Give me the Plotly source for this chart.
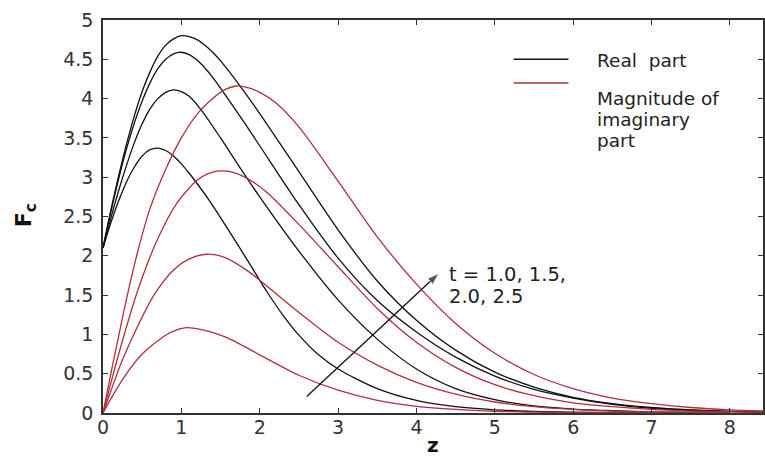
import plotly.graph_objects as go

# ---- data (z, F_c) ----
real_t10_z = [0, 0.1, 0.2, 0.3, 0.4, 0.5, 0.6, 0.7, 0.8, 0.9, 1.0, 1.1, 1.2, 1.36, 1.6, 1.87, 2.1, 2.3, 2.5, 2.75, 3.0, 3.5, 4.0, 4.5, 5.0, 5.5, 6.0, 7.0]
real_t10_f = [2.1, 2.42, 2.7, 2.94, 3.13, 3.27, 3.35, 3.37, 3.34, 3.27, 3.17, 3.05, 2.92, 2.7, 2.33, 1.9, 1.53, 1.24, 0.99, 0.74, 0.56, 0.31, 0.16, 0.08, 0.04, 0.02, 0.01, 0.0]

real_t15_z = [0, 0.1, 0.2, 0.3, 0.4, 0.5, 0.6, 0.7, 0.8, 0.9, 1.0, 1.1, 1.25, 1.5, 1.75, 2.0, 2.5, 3.0, 3.5, 4.0, 4.5, 5.0, 5.5, 6.0, 6.5, 7.0, 8.0]
real_t15_f = [2.1, 2.48, 2.83, 3.15, 3.44, 3.68, 3.87, 4.0, 4.08, 4.11, 4.09, 4.03, 3.86, 3.5, 3.12, 2.75, 2.06, 1.44, 0.94, 0.56, 0.31, 0.17, 0.09, 0.05, 0.03, 0.015, 0.005]

real_t20_z = [0, 0.1, 0.2, 0.3, 0.4, 0.5, 0.6, 0.7, 0.8, 0.9, 1.0, 1.1, 1.2, 1.3, 1.4, 1.6, 1.8, 2.0, 2.5, 3.0, 3.5, 4.0, 4.5, 5.0, 5.5, 6.0, 6.5, 7.0, 7.5, 8.0, 8.45]
real_t20_f = [2.1, 2.56, 2.98, 3.36, 3.69, 3.97, 4.2, 4.38, 4.5, 4.57, 4.59, 4.56, 4.49, 4.39, 4.27, 3.99, 3.7, 3.4, 2.65, 1.97, 1.43, 1.03, 0.71, 0.47, 0.3, 0.19, 0.11, 0.06, 0.035, 0.02, 0.01]

real_t25_z = [0, 0.1, 0.2, 0.3, 0.4, 0.5, 0.6, 0.7, 0.8, 0.9, 1.0, 1.1, 1.2, 1.3, 1.4, 1.5, 1.75, 2.0, 2.5, 3.0, 3.5, 4.0, 4.5, 5.0, 5.5, 6.0, 6.5, 7.0, 7.5, 8.0, 8.45]
real_t25_f = [2.1, 2.58, 3.02, 3.42, 3.78, 4.09, 4.34, 4.54, 4.68, 4.76, 4.8, 4.79, 4.75, 4.68, 4.59, 4.48, 4.16, 3.81, 3.07, 2.33, 1.68, 1.18, 0.8, 0.52, 0.33, 0.2, 0.12, 0.07, 0.04, 0.02, 0.01]

imag_t10_z = [0, 0.1, 0.3, 0.5, 0.8, 0.95, 1.06, 1.15, 1.3, 1.6, 2.0, 2.5, 3.0, 3.5, 4.0, 4.5, 5.0, 5.5, 6.0, 7.0]
imag_t10_f = [0, 0.18, 0.5, 0.75, 0.99, 1.06, 1.085, 1.08, 1.05, 0.95, 0.74, 0.48, 0.29, 0.16, 0.085, 0.045, 0.022, 0.011, 0.005, 0.0]

imag_t15_z = [0, 0.1, 0.25, 0.45, 0.65, 0.9, 1.1, 1.32, 1.55, 1.8, 2.0, 2.5, 3.0, 3.5, 4.0, 4.5, 5.0, 5.5, 6.0, 6.5, 7.0, 8.0]
imag_t15_f = [0, 0.28, 0.68, 1.12, 1.5, 1.82, 1.96, 2.02, 1.98, 1.84, 1.69, 1.28, 0.9, 0.61, 0.39, 0.24, 0.14, 0.08, 0.045, 0.025, 0.014, 0.005]

imag_t20_z = [0, 0.1, 0.2, 0.44, 0.7, 0.95, 1.2, 1.35, 1.52, 1.7, 1.9, 2.1, 2.5, 3.0, 3.5, 4.0, 4.5, 5.0, 5.5, 6.0, 6.5, 7.0, 7.5, 8.0, 8.45]
imag_t20_f = [0, 0.38, 0.75, 1.55, 2.22, 2.68, 2.96, 3.05, 3.08, 3.05, 2.95, 2.8, 2.4, 1.86, 1.33, 0.9, 0.58, 0.36, 0.22, 0.13, 0.08, 0.045, 0.025, 0.015, 0.01]

imag_t25_z = [0, 0.1, 0.2, 0.32, 0.45, 0.6, 0.8, 1.0, 1.2, 1.4, 1.55, 1.7, 1.85, 2.0, 2.2, 2.5, 3.0, 3.5, 4.0, 4.5, 5.0, 5.5, 6.0, 6.5, 7.0, 7.5, 8.0, 8.45]
imag_t25_f = [0, 0.5, 0.98, 1.54, 2.08, 2.6, 3.1, 3.5, 3.8, 4.0, 4.11, 4.16, 4.14, 4.08, 3.95, 3.64, 2.95, 2.24, 1.64, 1.14, 0.76, 0.49, 0.31, 0.19, 0.12, 0.07, 0.04, 0.025]

# arrow from low t to high t (start, tip)
arrow_z = [2.6, 4.29]
arrow_f = [0.21, 1.78]

y_ticks = [0, 0.5, 1, 1.5, 2, 2.5, 3, 3.5, 4, 4.5, 5]
x_ticks = [0, 1, 2, 3, 4, 5, 6, 7, 8]

BLACK = "#111111"
RED = "#b0303a"
FONT = "DejaVu Sans"

fig = go.Figure()
for zz, ff in [(real_t10_z, real_t10_f), (real_t15_z, real_t15_f),
               (real_t20_z, real_t20_f), (real_t25_z, real_t25_f)]:
    fig.add_trace(go.Scatter(x=zz, y=ff, mode="lines", showlegend=False,
                             line=dict(color=BLACK, width=1.3, shape="spline", smoothing=0.8)))
for zz, ff in [(imag_t10_z, imag_t10_f), (imag_t15_z, imag_t15_f),
               (imag_t20_z, imag_t20_f), (imag_t25_z, imag_t25_f)]:
    fig.add_trace(go.Scatter(x=zz, y=ff, mode="lines", showlegend=False,
                             line=dict(color=RED, width=1.3, shape="spline", smoothing=0.8)))

# arrow
fig.add_trace(go.Scatter(x=arrow_z, y=arrow_f, mode="lines+markers", showlegend=False,
                         line=dict(color=BLACK, width=1.3),
                         marker=dict(symbol="arrow", angleref="previous", size=[0, 13],
                                     color=BLACK)))

# legend drawn manually
fig.add_shape(type="line", xref="x", yref="y", x0=5.24, x1=5.94, y0=4.50, y1=4.50,
              line=dict(color=BLACK, width=1.5))
fig.add_shape(type="line", xref="x", yref="y", x0=5.24, x1=5.94, y0=4.20, y1=4.20,
              line=dict(color=RED, width=1.5))
legend_lines = [("Real  part", 60), ("Magnitude of", 98), ("imaginary", 119), ("part", 140)]
for txt, py in legend_lines:
    fig.add_annotation(x=6.28, y=(413 - py) / 78.6, xref="x", yref="y", text=txt, showarrow=False,
                       xanchor="left", yanchor="middle", font=dict(family=FONT, size=18.5, color="#222"))

# t annotation
for txt, py in [("t = 1.0, 1.5,", 274), ("2.0, 2.5", 296)]:
    fig.add_annotation(x=4.39, y=(413 - py) / 78.6, xref="x", yref="y", text=txt,
                       showarrow=False, xanchor="left", yanchor="middle",
                       font=dict(family=FONT, size=19.5, color="#222"))

# axis titles
fig.add_annotation(x=(25 - 103) / 662, y=(413 - 215) / 393, xref="paper", yref="paper",
                   text="<b>F<sub>c</sub></b>", textangle=-90, showarrow=False,
                   xanchor="center", yanchor="middle", font=dict(family=FONT, size=22, color="#111"))
fig.add_annotation(x=(433.5 - 103) / 662, y=(413 - 445) / 393, xref="paper", yref="paper",
                   text="<b>z</b>", showarrow=False, xanchor="center", yanchor="middle",
                   font=dict(family=FONT, size=20, color="#111"))

axis_common = dict(showgrid=False, zeroline=False, showline=True, linecolor="#333", linewidth=1.5,
                   mirror="ticks", ticks="inside", ticklen=5, tickwidth=1.2, tickcolor="#333",
                   tickfont=dict(family=FONT, size=19, color="#333"))
fig.update_xaxes(range=[0, 662 / 78.6], tickvals=x_ticks, ticktext=[str(v) for v in x_ticks],
                 ticklabelstandoff=-4, **axis_common)
fig.update_yaxes(range=[0, 5], tickvals=y_ticks, ticktext=[f"{v:g}" for v in y_ticks],
                 ticklabelstandoff=4, **axis_common)

fig.update_layout(width=765, height=457, margin=dict(l=103, r=0, t=20, b=44),
                  plot_bgcolor="white", paper_bgcolor="white", showlegend=False)

fig.write_html("out.html")
